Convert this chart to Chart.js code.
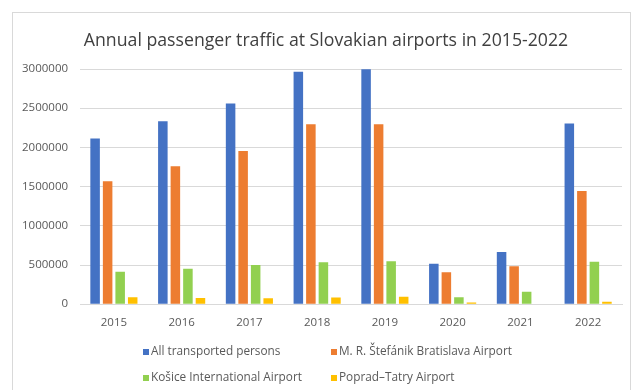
<!DOCTYPE html>
<html>
<head>
<meta charset="utf-8">
<script src="https://cdn.jsdelivr.net/npm/chart.js@4"></script>
<style>
  html, body { margin: 0; padding: 0; background: #fff; width: 640px; height: 390px; overflow: hidden; }
  #frame { position: absolute; left: 12px; top: 12px; width: 619px; height: 400px; border: 1px solid #d9d9d9; box-sizing: border-box; }
  #wrap { position: absolute; left: 0; top: 0; width: 640px; height: 346px; }
  #title { position: absolute; left: 0; top: 27px; width: 652px; text-align: center; font-family: "Open Sans", sans-serif; font-size: 17.7px; color: #404040; line-height: 24px; white-space: nowrap; }
  #legend { position: absolute; left: 0; top: 340px; width: 640px; font-family: "Open Sans", sans-serif; font-size: 11.8px; color: #595959; }
  .item { position: absolute; white-space: nowrap; line-height: 14px; }
  .box { display: inline-block; width: 6px; height: 6px; margin-right: 2px; vertical-align: 0px; }
</style>
</head>
<body>
<div id="frame"></div>
<div id="wrap"><canvas id="c" width="640" height="346"></canvas></div>
<div id="title"></div>
<div id="legend"></div>
<script>
const chartTitle = "Annual passenger traffic at Slovakian airports in 2015-2022";
const years = ["2015", "2016", "2017", "2018", "2019", "2020", "2021", "2022"];
const seriesNames = ["All transported persons", "M. R. Štefánik Bratislava Airport", "Košice International Airport", "Poprad–Tatry Airport"];
const allPersons = [2115000, 2333000, 2560000, 2965000, 2996000, 517000, 667000, 2304000];
const bratislava = [1568000, 1760000, 1953000, 2295000, 2295000, 406000, 483000, 1445000];
const kosice = [414000, 453000, 500000, 535000, 547000, 90000, 158000, 543000];
const poprad = [90000, 80000, 77000, 86000, 95000, 22000, 5000, 30000];
const yTicks = [0, 500000, 1000000, 1500000, 2000000, 2500000, 3000000];
const colors = ["#4472C4", "#ED7D31", "#92D050", "#FFC000"];
const seriesValues = [allPersons, bratislava, kosice, poprad];

document.getElementById("title").textContent = chartTitle;

const datasets = seriesNames.map((name, i) => ({
  label: name,
  data: seriesValues[i],
  backgroundColor: colors[i],
  borderWidth: 0,
  categoryPercentage: 0.74,
  barPercentage: 0.76
}));

new Chart(document.getElementById("c"), {
  type: "bar",
  data: { labels: years, datasets },
  options: {
    responsive: false,
    animation: false,
    layout: { padding: { left: 10, right: 18, top: 69, bottom: 4 } },
    plugins: {
      legend: { display: false },
      tooltip: { enabled: false },
      title: { display: false }
    },
    scales: {
      x: {
        grid: { display: false, drawTicks: false },
        border: { display: true, color: "#d9d9d9" },
        ticks: { color: "#595959", font: { family: "Open Sans", size: 11.5 }, padding: 12 }
      },
      y: {
        min: 0, max: 3000000,
        afterBuildTicks: (axis) => { axis.ticks = yTicks.map(v => ({ value: v })); },
        grid: { color: "#d9d9d9", drawTicks: false },
        border: { display: false },
        ticks: {
          color: "#595959",
          font: { family: "Open Sans", size: 11.5 },
          padding: 12,
          callback: (v) => String(v)
        }
      }
    }
  }
});

const legend = document.getElementById("legend");
const positions = [[143, 3], [331, 3], [143, 29], [331, 29]];
seriesNames.forEach((name, i) => {
  const d = document.createElement("div");
  d.className = "item";
  d.style.left = positions[i][0] + "px";
  d.style.top = positions[i][1] + "px";
  const b = document.createElement("span");
  b.className = "box";
  b.style.background = colors[i];
  d.appendChild(b);
  d.appendChild(document.createTextNode(name));
  legend.appendChild(d);
});
</script>
</body>
</html>
